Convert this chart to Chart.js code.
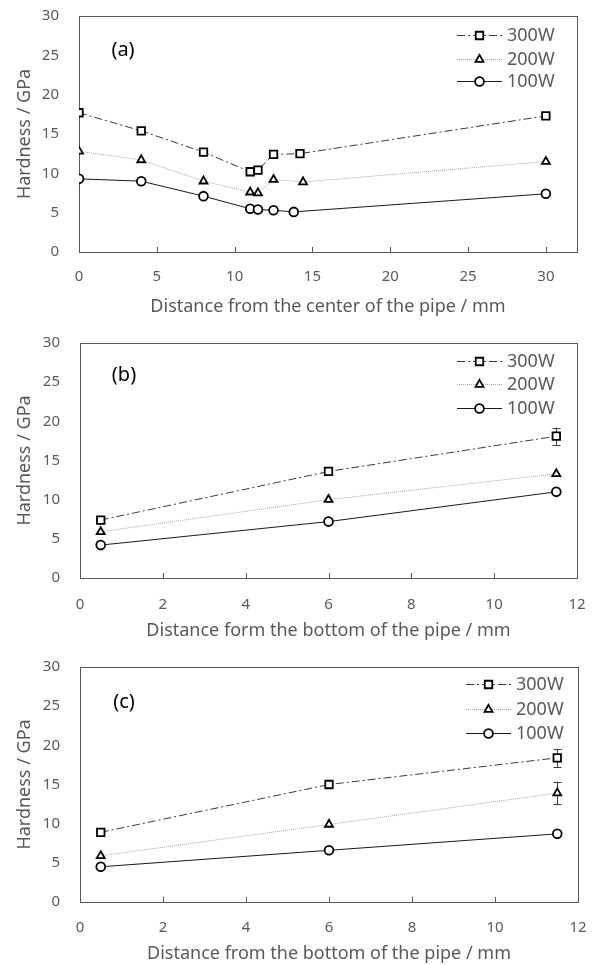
<!DOCTYPE html>
<html><head><meta charset="utf-8">
<script src="https://cdn.jsdelivr.net/npm/chart.js@4.4.0/dist/chart.umd.min.js"></script>
<style>
html,body{margin:0;padding:0;background:#fff;width:605px;height:965px;overflow:hidden;}
canvas{position:absolute;left:0;}
</style></head><body>
<canvas id="ca" width="605" height="320" style="top:0px"></canvas>
<canvas id="cb" width="605" height="322" style="top:320px"></canvas>
<canvas id="cc" width="605" height="323" style="top:642px"></canvas>
<script>
// ---- data ----
const seriesNames = ['300W', '200W', '100W'];
// (a) distance from the center of the pipe
const xA300 = [0, 4, 8, 11, 11.5, 12.5, 14.2, 30];
const xA200 = [0, 4, 8, 11, 11.5, 12.5, 14.4, 30];
const xA100 = [0, 4, 8, 11, 11.5, 12.5, 13.8, 30];
const a300 = [17.7, 15.4, 12.7, 10.2, 10.4, 12.4, 12.5, 17.3];
const a200 = [12.8, 11.7, 9.0, 7.6, 7.5, 9.2, 8.9, 11.5];
const a100 = [9.3, 9.0, 7.1, 5.5, 5.4, 5.3, 5.1, 7.4];
// (b) distance form the bottom of the pipe
const xB = [0.5, 6, 11.5];
const b300 = [7.4, 13.6, 18.1];
const b200 = [5.9, 10.0, 13.3];
const b100 = [4.2, 7.2, 11.0];
const bErr300 = [0, 0, 1.1];
const bErr200 = [0, 0, 0];
const bErr100 = [0, 0, 0];
// (c) distance from the bottom of the pipe
const xC = [0.5, 6, 11.5];
const c300 = [8.9, 15.0, 18.4];
const c200 = [5.9, 9.9, 13.9];
const c100 = [4.5, 6.6, 8.7];
const cErr300 = [0, 0, 1.15];
const cErr200 = [0, 0, 1.45];
const cErr100 = [0, 0, 0];

const yTicks = [0, 5, 10, 15, 20, 25, 30];
const xTicksA = [0, 5, 10, 15, 20, 25, 30];
const xTicksBC = [0, 2, 4, 6, 8, 10, 12];

// ---- styles ----
const FONT = "'Noto Sans', 'DejaVu Sans', sans-serif";
const TXT = '#595959';
const styles = [
  {borderColor:'#3a3a3a', borderDash:[8,3,2,3], pointStyle:'rect', pointRadius:5.3},
  {borderColor:'#a6a6a6', borderDash:[1,1], pointStyle:'triangle', pointRadius:4.6},
  {borderColor:'#1a1a1a', borderDash:[], pointStyle:'circle', pointRadius:4.4}
];

function pts(xs, ys){ return xs.map((x,i)=>({x:x, y:ys[i]})); }

const framePlugin = {
  id: 'frame',
  beforeDatasetsDraw(chart, args, o) {
    const {ctx, chartArea:a} = chart;
    ctx.save();
    ctx.strokeStyle = TXT; ctx.lineWidth = 1; ctx.setLineDash([]);
    const L = Math.round(a.left)+0.5, T = Math.round(a.top)+0.5;
    ctx.strokeRect(L, T, Math.round(a.right)-Math.round(a.left), Math.round(a.bottom)-Math.round(a.top));
    const xs = chart.scales.x;
    xs.ticks.forEach(t => {
      if (t.value === xs.min) return;
      const px = Math.round(xs.getPixelForValue(t.value)) + 0.5;
      ctx.beginPath(); ctx.moveTo(px, Math.round(a.bottom)); ctx.lineTo(px, Math.round(a.bottom) - 5); ctx.stroke();
    });
    // error bars
    const ys = chart.scales.y;
    (o.errs || []).forEach((errArr, di) => {
      const data = chart.data.datasets[di].data;
      errArr.forEach((e, i) => {
        if (!e) return;
        const px = Math.round(xs.getPixelForValue(data[i].x)) + 0.5;
        const y1 = ys.getPixelForValue(data[i].y + e), y2 = ys.getPixelForValue(data[i].y - e);
        ctx.strokeStyle = '#404040';
        ctx.beginPath();
        ctx.moveTo(px, y1); ctx.lineTo(px, y2);
        ctx.moveTo(px-4, Math.round(y1)+0.5); ctx.lineTo(px+4, Math.round(y1)+0.5);
        ctx.moveTo(px-4, Math.round(y2)+0.5); ctx.lineTo(px+4, Math.round(y2)+0.5);
        ctx.stroke();
      });
    });
    ctx.restore();
  },
  afterDatasetsDraw(chart, args, o) {
    const {ctx, chartArea:a} = chart;
    ctx.save();
    // panel label
    ctx.fillStyle = '#000';
    ctx.font = "20px " + FONT;
    ctx.textAlign = 'center'; ctx.textBaseline = 'middle';
    ctx.fillText(o.label, a.left + o.labelDx, a.top + o.labelDy);
    // legend
    ctx.font = "18px " + FONT;
    ctx.textAlign = 'left';
    chart.data.datasets.forEach((ds, i) => {
      const y = Math.round(a.top + o.legendYs[i]) + 0.5;
      const x0 = a.right - o.legendDx;
      ctx.strokeStyle = ds.borderColor; ctx.lineWidth = 1;
      ctx.setLineDash(ds.borderDash || []);
      ctx.beginPath(); ctx.moveTo(x0, y); ctx.lineTo(x0 + 45, y); ctx.stroke();
      ctx.setLineDash([]);
      ctx.fillStyle = '#fff'; ctx.strokeStyle = '#000'; ctx.lineWidth = 1.8;
      Chart.helpers.drawPoint(ctx, {pointStyle: ds.pointStyle, radius: ds.pointRadius, borderWidth: 1.8, rotation: 0}, x0 + 22.5, y);
      ctx.fillStyle = TXT;
      ctx.fillText(ds.label, x0 + 50, y);
    });
    ctx.restore();
  }
};

function build(id, H, area, cfg) {
  const datasets = cfg.series.map((s, i) => ({
    label: seriesNames[i],
    data: pts(s.x, s.y),
    borderColor: styles[i].borderColor,
    borderDash: styles[i].borderDash,
    borderWidth: 1,
    pointStyle: styles[i].pointStyle,
    pointRadius: styles[i].pointRadius,
    pointBorderWidth: 1.8,
    pointBorderColor: '#000',
    pointBackgroundColor: '#fff',
    tension: 0,
    fill: false
  }));
  return new Chart(document.getElementById(id), {
    type: 'line',
    data: {datasets},
    plugins: [framePlugin],
    options: {
      responsive: false,
      animation: false,
      devicePixelRatio: 1,
      events: [],
      layout: {padding: {left: 0, right: 605 - area.right, top: area.top, bottom: 0}},
      plugins: {
        legend: {display: false},
        tooltip: {enabled: false},
        frame: {label: cfg.label, labelDx: 44, labelDy: cfg.labelDy, legendDx: cfg.legendDx, legendYs: cfg.legendYs, errs: cfg.errs}
      },
      scales: {
        x: {
          type: 'linear', min: cfg.xMin, max: cfg.xMax,
          afterBuildTicks: s => { s.ticks = cfg.xTicks.map(v => ({value: v})); },
          afterFit: s => { s.height = H - area.bottom; },
          grid: {display: false, drawTicks: false},
          border: {display: false},
          ticks: {padding: cfg.tickPad, color: TXT, font: {family: FONT, size: 15}},
          title: {display: true, text: cfg.xTitle, color: TXT, font: {family: FONT, size: 18}, padding: {top: 0, bottom: cfg.xTitlePad}}
        },
        y: {
          type: 'linear', min: 0, max: 30,
          afterBuildTicks: s => { s.ticks = yTicks.map(v => ({value: v})); },
          afterFit: s => { s.width = area.left; },
          grid: {display: true, drawOnChartArea: false, drawTicks: true, tickLength: 17, tickColor: 'rgba(0,0,0,0)'},
          border: {display: false},
          ticks: {padding: 3, color: TXT, font: {family: FONT, size: 15}},
          title: {display: true, text: 'Hardness / GPa', color: TXT, font: {family: FONT, size: 18}, padding: {top: 14, bottom: 0}}
        }
      }
    }
  });
}

build('ca', 320, {left: 79, top: 16, right: 577, bottom: 252}, {
  series: [{x: xA300, y: a300}, {x: xA200, y: a200}, {x: xA100, y: a100}],
  xMin: 0, xMax: 32, xTicks: xTicksA, tickPad: 16,
  xTitle: 'Distance from the center of the pipe / mm', xTitlePad: 2,
  label: '(a)', labelDy: 34, legendDx: 120, legendYs: [18.7, 42.7, 65.3], errs: []
});
build('cb', 322, {left: 80, top: 23, right: 577, bottom: 258}, {
  series: [{x: xB, y: b300}, {x: xB, y: b200}, {x: xB, y: b100}],
  xMin: 0, xMax: 12, xTicks: xTicksBC, tickPad: 18,
  xTitle: 'Distance form the bottom of the pipe / mm', xTitlePad: 0,
  label: '(b)', labelDy: 32, legendDx: 120, legendYs: [17.7, 41.3, 64.7], errs: [bErr300, bErr200, bErr100]
});
build('cc', 323, {left: 80, top: 25, right: 578, bottom: 260}, {
  series: [{x: xC, y: c300}, {x: xC, y: c200}, {x: xC, y: c100}],
  xMin: 0, xMax: 12, xTicks: xTicksBC, tickPad: 17,
  xTitle: 'Distance from the bottom of the pipe / mm', xTitlePad: 0,
  label: '(c)', labelDy: 35, legendDx: 112, legendYs: [17.3, 42.3, 65.7], errs: [cErr300, cErr200, cErr100]
});
</script>
</body></html>
